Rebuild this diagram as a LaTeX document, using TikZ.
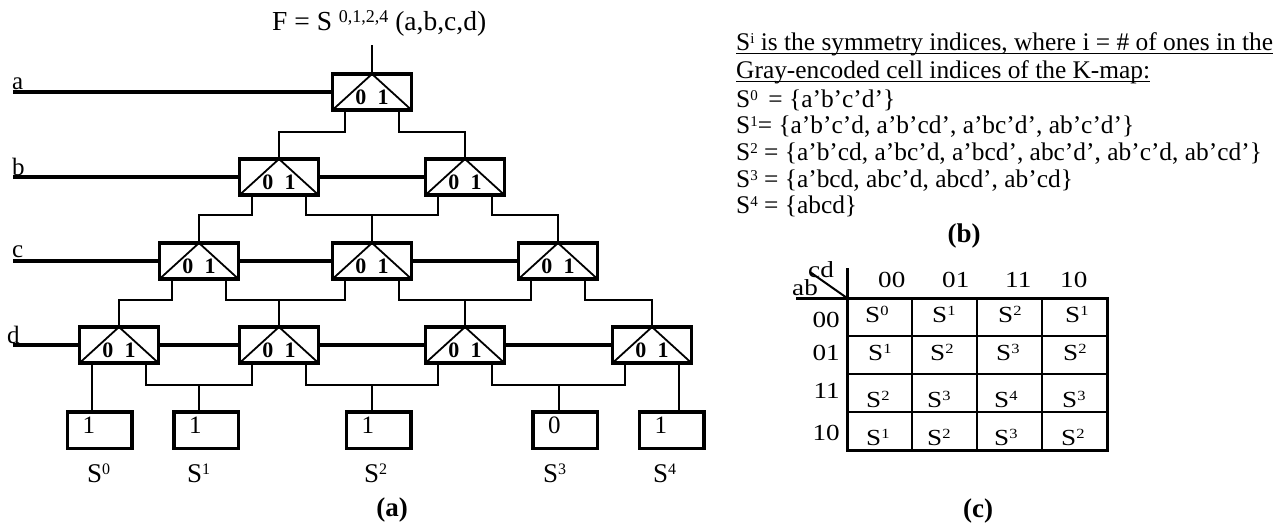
\documentclass[tikz,border=0pt]{standalone}
\usepackage{fontspec}
\usepackage{graphicx}
\setmainfont{Liberation Serif}
\usetikzlibrary{calc}
\newcommand\fsz[1]{\fontsize{#1}{#1}\selectfont}
% small raised index, Word style
\newcommand\sx[2][15]{\raisebox{0.27em}{\fsz{#1}#2}}
% widened table lettering
\newcommand\kx[1]{\scalebox{1.18}[1]{#1}}
\begin{document}
\begin{tikzpicture}[x=1pt,y=-1pt,
  wire/.style={line width=2pt},
  bus/.style={line width=3.3pt},
  mux/.style={draw, line width=3.4pt, minimum width=79pt, minimum height=36pt,
    inner sep=0pt, font=\fsz{22}\bfseries, text height=24pt, text depth=0pt,
    path picture={\draw[line width=1.8pt]
      (path picture bounding box.south west) -- (path picture bounding box.north)
      -- (path picture bounding box.south east);}},
  leaf/.style={draw, line width=3.5pt, minimum width=64.5pt, minimum height=36.5pt,
    inner sep=0pt, font=\fsz{25}, text width=34pt, align=left,
    text height=7pt, text depth=0pt},
  txt/.style={inner sep=0pt, anchor=base west, font=\fsz{25}},
  rtxt/.style={inner sep=0pt, anchor=base west, font=\fsz{25.4}},
  ktxt/.style={inner sep=0pt, anchor=base west, font=\fsz{23}},
  captext/.style={inner sep=0pt, font=\fsz{27}\bfseries},
  kin/.style={line width=2pt},
  kout/.style={line width=3pt}]
\useasboundingbox (0,0) rectangle (1287,525);

% ---------- (a) lattice of multiplexers ----------
\node[txt, font=\fsz{27.5}] (F) at (272,30) {F = S \sx[18]{0,1,2,4} (a,b,c,d)};

\node[mux] (A)  at (372,92)  {0\hspace{0.52em}1};
\node[mux] (B1) at (279,177) {0\hspace{0.52em}1};
\node[mux] (B2) at (465,177) {0\hspace{0.52em}1};
\node[mux] (C1) at (199,261) {0\hspace{0.52em}1};
\node[mux] (C2) at (372,261) {0\hspace{0.52em}1};
\node[mux] (C3) at (558,261) {0\hspace{0.52em}1};
\node[mux] (D1) at (119,345) {0\hspace{0.52em}1};
\node[mux] (D2) at (279,345) {0\hspace{0.52em}1};
\node[mux] (D3) at (465,345) {0\hspace{0.52em}1};
\node[mux] (D4) at (652,345) {0\hspace{0.52em}1};

\foreach \m in {A,B1,B2,C1,C2,C3,D1,D2,D3,D4}{
  \coordinate (\m-l) at ([xshift=-27pt]\m.south);
  \coordinate (\m-r) at ([xshift=27pt]\m.south);
}

% variable inputs
\node[txt] (la) at (12,89)  {a};
\node[txt] (lb) at (12,175) {b};
\node[txt] (lc) at (12,257) {c};
\node[txt] (ld) at (7,343)  {d};
\coordinate (ia) at (13,92);
\coordinate (ib) at (13,177);
\coordinate (ic) at (13,261);
\coordinate (id) at (13,345);
\draw[bus] (ia) -- (A.west);
\draw[bus] (ib) -- (B1.west) (B1.east) -- (B2.west);
\draw[bus] (ic) -- (C1.west) (C1.east) -- (C2.west) (C2.east) -- (C3.west);
\draw[bus] (id) -- (D1.west) (D1.east) -- (D2.west) (D2.east) -- (D3.west) (D3.east) -- (D4.west);

% function output
\coordinate (Fo) at (372,45);
\draw[wire] (A.north) -- (Fo);

% data paths between levels
\draw[wire] (A-l) -- ++(0,20) -| (B1.north);
\draw[wire] (A-r) -- ++(0,20) -| (B2.north);
\draw[wire] (B1-l) -- ++(0,18) -| (C1.north);
\draw[wire] (B1-r) -- ++(0,18) -| (C2.north);
\draw[wire] (B2-l) -- ++(0,18) -| (C2.north);
\draw[wire] (B2-r) -- ++(0,18) -| (C3.north);
\draw[wire] (C1-l) -- ++(0,19) -| (D1.north);
\draw[wire] (C1-r) -- ++(0,19) -| (D2.north);
\draw[wire] (C2-l) -- ++(0,19) -| (D2.north);
\draw[wire] (C2-r) -- ++(0,19) -| (D3.north);
\draw[wire] (C3-l) -- ++(0,19) -| (D3.north);
\draw[wire] (C3-r) -- ++(0,19) -| (D4.north);

% constant leaves
\node[leaf] (L0) at (99.5,430)  {1};
\node[leaf] (L1) at (206,430)   {1};
\node[leaf] (L2) at (378.5,430) {1};
\node[leaf] (L3) at (565,430)   {0};
\node[leaf] (L4) at (671.5,430) {1};

\coordinate (j1) at ($(D1-r)!.5!(D2-l)+(0,20)$);
\coordinate (j2) at ($(D2-r)!.5!(D3-l)+(0,20)$);
\coordinate (j3) at ($(D3-r)!.5!(D4-l)+(0,20)$);
\draw[wire] (D1-l) -- (D1-l |- L0.north);
\draw[wire] (D1-r) |- (j1) -| (D2-l);
\draw[wire] (j1) -- (j1 |- L1.north);
\draw[wire] (D2-r) |- (j2) -| (D3-l);
\draw[wire] (j2) -- (j2 |- L2.north);
\draw[wire] (D3-r) |- (j3) -| (D4-l);
\draw[wire] (j3) -- (j3 |- L3.north);
\draw[wire] (D4-r) -- (D4-r |- L4.north);

\node[txt, font=\fsz{27}] (s0) at (87,482)  {S\sx[16]{0}};
\node[txt, font=\fsz{27}] (s1) at (187,482) {S\sx[16]{1}};
\node[txt, font=\fsz{27}] (s2) at (364,482) {S\sx[16]{2}};
\node[txt, font=\fsz{27}] (s3) at (543,482) {S\sx[16]{3}};
\node[txt, font=\fsz{27}] (s4) at (653,482) {S\sx[16]{4}};
\node[captext] (capa) at (392,510) {(a)};

% ---------- (b) symmetry index sets ----------
\node[rtxt] (t1) at (736,50)  {S\sx{i} is the symmetry indices, where i = \# of ones in the};
\node[rtxt] (t2) at (736,78)  {Gray-encoded cell indices of the K-map:};
\draw[line width=1.3pt] ([yshift=-3.5pt]t1.base west) -- ([yshift=-3.5pt]t1.base east);
\draw[line width=1.3pt] ([yshift=-3.5pt]t2.base west) -- ([yshift=-3.5pt]t2.base east);
\node[rtxt] (t3) at (736,107) {S\sx{0} \,= \{a’b’c’d’\}};
\node[rtxt] (t4) at (736,133) {S\sx{1}= \{a’b’c’d, a’b’cd’, a’bc’d’, ab’c’d’\}};
\node[rtxt] (t5) at (736,160) {S\sx{2} = \{a’b’cd, a’bc’d, a’bcd’, abc’d’, ab’c’d, ab’cd’\}};
\node[rtxt] (t6) at (736,187) {S\sx{3} = \{a’bcd, abc’d, abcd’, ab’cd\}};
\node[rtxt] (t7) at (736,213) {S\sx{4} = \{abcd\}};
\node[captext] (capb) at (964,236) {(b)};

% ---------- (c) K-map of the indices ----------
\draw[kin] (912,298) -- (912,450) (977,298) -- (977,450) (1042,298) -- (1042,450);
\draw[kin] (847,336) -- (1107,336) (847,374) -- (1107,374) (847,412) -- (1107,412);
\draw[kout] (847,268) -- (847,450) -- (1107,450) -- (1107,298) -- (796,298);
\draw[kin] (810,272) -- (847,298);
\node[ktxt] (kcd) at (808,277) {\kx{cd}};
\node[ktxt] (kab) at (792,295) {\kx{ab}};

\node[ktxt] (c1) at (878,287)  {\kx{00}};
\node[ktxt] (c2) at (942,287)  {\kx{01}};
\node[ktxt] (c3) at (1005,287) {\kx{11}};
\node[ktxt] (c4) at (1060,287) {\kx{10}};
\node[ktxt, anchor=base east] (r1) at (840,327) {\kx{00}};
\node[ktxt, anchor=base east] (r2) at (840,360) {\kx{01}};
\node[ktxt, anchor=base east] (r3) at (840,398) {\kx{11}};
\node[ktxt, anchor=base east] (r4) at (840,440) {\kx{10}};

\node[ktxt] (k11) at (865,322)  {\kx{S\sx[14]{0}}};
\node[ktxt] (k12) at (932,322)  {\kx{S\sx[14]{1}}};
\node[ktxt] (k13) at (998,322)  {\kx{S\sx[14]{2}}};
\node[ktxt] (k14) at (1065,322) {\kx{S\sx[14]{1}}};
\node[ktxt] (k21) at (868,360)  {\kx{S\sx[14]{1}}};
\node[ktxt] (k22) at (930,360)  {\kx{S\sx[14]{2}}};
\node[ktxt] (k23) at (996,360)  {\kx{S\sx[14]{3}}};
\node[ktxt] (k24) at (1063,360) {\kx{S\sx[14]{2}}};
\node[ktxt] (k31) at (866,407)  {\kx{S\sx[14]{2}}};
\node[ktxt] (k32) at (927,407)  {\kx{S\sx[14]{3}}};
\node[ktxt] (k33) at (994,407)  {\kx{S\sx[14]{4}}};
\node[ktxt] (k34) at (1062,407) {\kx{S\sx[14]{3}}};
\node[ktxt] (k41) at (866,445)  {\kx{S\sx[14]{1}}};
\node[ktxt] (k42) at (927,445)  {\kx{S\sx[14]{2}}};
\node[ktxt] (k43) at (994,445)  {\kx{S\sx[14]{3}}};
\node[ktxt] (k44) at (1061,445) {\kx{S\sx[14]{2}}};
\node[captext] (capc) at (978,511) {(c)};
\end{tikzpicture}
\end{document}
